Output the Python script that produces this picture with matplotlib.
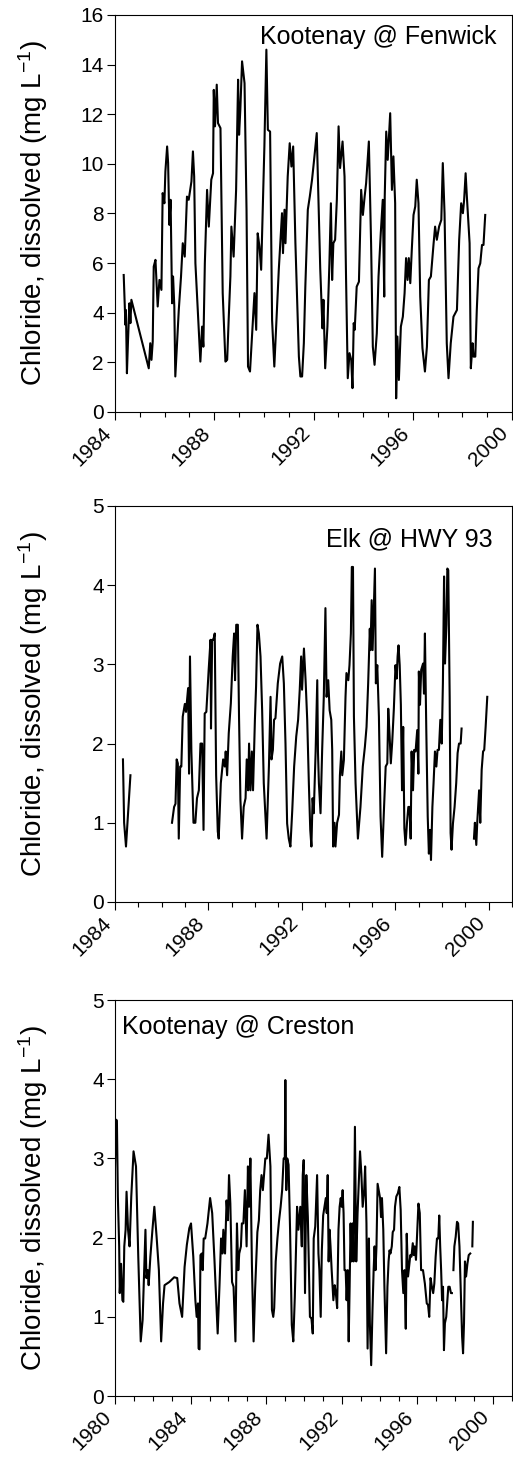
import numpy as np
import matplotlib.pyplot as plt
from matplotlib.ticker import MultipleLocator

plt.rcParams["font.family"] = ["Liberation Sans", "DejaVu Sans"]
plt.rcParams["mathtext.default"] = "regular"

nan = np.nan

# Kootenay @ Fenwick (decimal year, mg/L)
fenwick_year = [
    1984.35, 1984.42, 1984.44, 1984.48, 1984.52, 1984.58, 1984.62, 1984.66,
    1985.36, 1985.42, 1985.47, 1985.52, 1985.56, 1985.63, 1985.72, 1985.79, 1985.87, 1985.92, 1985.99,
    1986.03, 1986.10, 1986.14, 1986.19, 1986.24, 1986.30, 1986.34, 1986.39, 1986.43, 1986.57, 1986.66, 1986.73, 1986.81, 1986.90, 1986.97,
    1987.08, 1987.14, 1987.19, 1987.24, 1987.44, 1987.51, 1987.56, 1987.62, 1987.71, 1987.78, 1987.88, 1987.95, 1987.98,
    1988.03, 1988.10, 1988.15, 1988.25, 1988.34, 1988.45, 1988.52, 1988.58, 1988.65, 1988.69, 1988.78, 1988.88, 1988.96,
    1989.00, 1989.05, 1989.12, 1989.22, 1989.30, 1989.36, 1989.44, 1989.52, 1989.62, 1989.69, 1989.75, 1989.82, 1989.89,
    1990.02, 1990.10, 1990.16, 1990.25, 1990.33, 1990.42, 1990.49, 1990.60, 1990.73, 1990.77, 1990.83, 1990.87, 1990.96,
    1991.04, 1991.11, 1991.18, 1991.27, 1991.41, 1991.47, 1991.54, 1991.61, 1991.67, 1991.77, 1991.85, 1991.94,
    1992.01, 1992.13, 1992.27, 1992.36, 1992.40, 1992.47, 1992.56, 1992.64, 1992.70, 1992.75, 1992.80, 1992.87, 1992.94,
    1993.01, 1993.07, 1993.17, 1993.25, 1993.31, 1993.38, 1993.45, 1993.52, 1993.57, 1993.62, 1993.66, 1993.74, 1993.83, 1993.92, 1993.99,
    1994.06, 1994.12, 1994.23, 1994.32, 1994.39, 1994.46, 1994.55, 1994.62, 1994.71, 1994.79, 1994.85, 1994.87, 1994.93, 1994.99,
    1995.09, 1995.16, 1995.22, 1995.29, 1995.33, 1995.38, 1995.44, 1995.52, 1995.60, 1995.67, 1995.73, 1995.79, 1995.84, 1995.90, 1995.96,
    1996.03, 1996.10, 1996.16, 1996.23, 1996.30, 1996.39, 1996.49, 1996.57, 1996.65, 1996.73, 1996.84, 1996.90, 1996.97,
    1997.06, 1997.15, 1997.21, 1997.28, 1997.37, 1997.44, 1997.53, 1997.64, 1997.78, 1997.87, 1997.95,
    1998.02, 1998.07, 1998.13, 1998.18, 1998.29, 1998.34, 1998.41, 1998.45, 1998.52, 1998.58, 1998.65, 1998.72, 1998.79, 1998.85, 1998.92,
]
fenwick_cl = [
    5.52, 3.51, 4.11, 1.56, 2.77, 4.38, 3.58, 4.52,
    1.76, 2.77, 2.10, 2.84, 5.86, 6.13, 4.25, 5.32, 4.92, 8.82, 8.41,
    9.69, 10.70, 10.03, 7.54, 8.55, 4.38, 5.46, 4.25, 1.43, 4.11, 5.46, 6.80, 6.26, 8.68, 8.55,
    9.29, 10.50, 9.49, 5.99, 2.03, 3.44, 2.63, 5.99, 8.95, 7.47, 9.36, 9.62, 12.98,
    11.51, 13.19, 11.64, 11.44, 4.79, 2.03, 2.10, 3.71, 5.46, 7.47, 6.26, 8.95, 13.39,
    11.17, 12.18, 14.13, 13.25, 8.15, 1.83, 1.63, 3.04, 4.79, 3.31, 7.20, 6.67, 5.73,
    10.70, 14.60, 11.37, 11.30, 3.71, 1.83, 3.31, 5.73, 8.01, 6.40, 8.15, 6.80, 9.49,
    10.83, 9.89, 10.70, 6.80, 2.23, 1.43, 1.43, 2.77, 5.05, 8.15, 8.68, 9.36,
    10.03, 11.24, 5.79, 3.37, 4.52, 1.76, 3.44, 5.99, 8.41, 5.32, 6.80, 6.94, 8.55,
    11.51, 9.83, 10.90, 9.49, 5.46, 1.36, 2.37, 2.10, 0.96, 3.58, 3.31, 5.05, 5.25, 8.95, 7.94,
    8.68, 9.22, 10.90, 6.80, 2.63, 1.90, 3.17, 5.46, 7.20, 8.55, 4.65, 8.68, 11.30, 10.16,
    12.04, 8.95, 10.30, 8.41, 0.55, 3.04, 1.29, 3.44, 3.84, 4.79, 6.20, 5.32, 6.20, 5.19, 6.53,
    7.94, 8.28, 9.36, 8.41, 4.65, 2.57, 1.63, 2.63, 5.32, 5.46, 6.80, 7.47, 6.94,
    7.47, 7.74, 10.03, 8.01, 2.77, 1.36, 2.77, 3.84, 4.11, 6.94, 8.41,
    8.01, 8.55, 9.62, 8.68, 6.80, 1.76, 2.77, 2.23, 2.23, 4.11, 5.79, 5.99, 6.73, 6.73, 7.94,
]

# Elk @ HWY 93 (nan = gap in record)
elk_year = [
    1984.34, 1984.39, 1984.47, 1984.56, 1984.66, nan,
    1986.44, 1986.53, 1986.59, 1986.64, 1986.69, 1986.73, 1986.79, 1986.84, 1986.90, 1986.99,
    1987.04, 1987.13, 1987.17, 1987.21, 1987.27, 1987.36, 1987.44, 1987.51, 1987.59, 1987.66, 1987.73, 1987.79, 1987.84, 1987.91,
    1988.01, 1988.09, 1988.11, 1988.16, 1988.21, 1988.27, 1988.33, 1988.40, 1988.44, 1988.53, 1988.63, 1988.70, 1988.74, 1988.80, 1988.87, 1988.96,
    1989.04, 1989.10, 1989.14, 1989.19, 1989.26, 1989.31, 1989.37, 1989.44, 1989.51, 1989.59, 1989.64, 1989.70, 1989.74, 1989.80, 1989.86, 1989.91, 1989.99,
    1990.04, 1990.10, 1990.16, 1990.23, 1990.30, 1990.37, 1990.49, 1990.59, 1990.66, 1990.70, 1990.76, 1990.81, 1990.87, 1990.97,
    1991.07, 1991.16, 1991.23, 1991.30, 1991.37, 1991.44, 1991.51, 1991.59, 1991.67, 1991.76, 1991.84, 1991.91, 1991.97,
    1992.01, 1992.09, 1992.16, 1992.23, 1992.30, 1992.36, 1992.41, 1992.46, 1992.51, 1992.59, 1992.66, 1992.69, 1992.73, 1992.80, 1992.87, 1992.94,
    1993.01, 1993.06, 1993.13, 1993.19, 1993.26, 1993.30, 1993.34, 1993.40, 1993.44, 1993.51, 1993.59, 1993.63, 1993.69, 1993.73, 1993.80, 1993.87, 1993.91, 1993.99,
    1994.04, 1994.10, 1994.14, 1994.19, 1994.23, 1994.30, 1994.40, 1994.51, 1994.61, 1994.70, 1994.77, 1994.84, 1994.91, 1994.94, 1994.99,
    1995.03, 1995.09, 1995.13, 1995.17, 1995.23, 1995.30, 1995.37, 1995.44, 1995.51, 1995.59, 1995.66, 1995.70, 1995.76, 1995.81, 1995.87, 1995.94, 1995.99,
    1996.01, 1996.06, 1996.10, 1996.14, 1996.19, 1996.24, 1996.29, 1996.34, 1996.39, 1996.44, 1996.50, 1996.56, 1996.61, 1996.66, 1996.70, 1996.76, 1996.81, 1996.87, 1996.94, 1996.99,
    1997.01, 1997.06, 1997.11, 1997.19, 1997.23, 1997.27, 1997.33, 1997.39, 1997.44, 1997.49, 1997.53, 1997.59, 1997.64, 1997.70, 1997.76, 1997.81, 1997.87, 1997.93, 1997.99,
    1998.04, 1998.09, 1998.13, 1998.19, 1998.23, 1998.27, 1998.33, 1998.37, 1998.41, 1998.47, 1998.54, 1998.61, 1998.67, 1998.73, 1998.80, 1998.84, nan,
    1999.37, 1999.41, 1999.47, 1999.51, 1999.59, 1999.64, 1999.70, 1999.76, 1999.81, 1999.87, 1999.94,
]
elk_cl = [
    1.80, 1.00, 0.70, 1.12, 1.60, nan,
    1.00, 1.20, 1.24, 1.80, 1.75, 0.80, 1.71, 1.71, 2.34, 2.50,
    2.40, 2.70, 1.62, 3.10, 1.90, 1.00, 1.00, 1.31, 1.41, 2.00, 2.00, 0.91, 2.38, 2.40,
    2.93, 3.31, 2.19, 3.31, 3.31, 3.39, 1.60, 0.89, 0.80, 1.50, 1.80, 1.71, 1.90, 1.60, 2.13, 2.51,
    3.10, 3.39, 2.80, 3.50, 3.50, 2.34, 1.29, 0.80, 1.20, 1.31, 1.80, 1.41, 2.00, 1.41, 1.90, 1.41, 2.30,
    2.72, 3.50, 3.39, 3.10, 2.42, 1.50, 0.80, 1.71, 2.59, 1.80, 1.92, 2.30, 2.32, 2.76,
    3.01, 3.10, 2.76, 2.00, 0.99, 0.80, 0.70, 1.16, 1.71, 2.09, 2.30, 2.68, 3.10,
    2.68, 3.20, 2.80, 2.30, 1.50, 0.91, 0.70, 1.31, 1.12, 1.90, 2.80, 1.90, 1.50, 1.12, 1.92, 2.59,
    3.71, 2.59, 2.80, 2.42, 2.30, 1.92, 0.70, 1.00, 0.70, 1.00, 1.10, 1.60, 1.90, 1.60, 1.79, 2.59, 2.89, 2.80,
    2.99, 3.39, 4.23, 4.23, 2.34, 1.50, 0.80, 1.20, 1.71, 1.96, 2.21, 2.76, 3.45, 3.18, 3.81,
    3.18, 3.81, 4.21, 2.76, 2.99, 2.34, 1.08, 0.57, 1.12, 1.71, 1.75, 2.44, 2.09, 1.75, 2.02, 2.44, 2.82,
    2.99, 2.82, 3.10, 3.24, 2.99, 2.49, 1.41, 2.21, 0.93, 0.72, 0.99, 1.20, 1.20, 0.80, 1.90, 1.41, 1.92, 1.90, 2.17, 1.62,
    2.91, 2.49, 2.93, 3.01, 2.63, 3.39, 2.15, 1.08, 0.61, 0.91, 0.53, 1.20, 1.50, 1.90, 1.71, 1.92, 1.92, 2.30, 2.00,
    2.76, 4.11, 3.01, 3.50, 4.21, 4.19, 2.59, 0.87, 0.66, 0.99, 1.20, 1.50, 1.88, 2.00, 2.00, 2.19, nan,
    0.80, 1.00, 0.72, 1.00, 1.41, 1.00, 1.67, 1.90, 1.92, 2.21, 2.59,
]

# Kootenay @ Creston
creston_year = [
    1979.99, 1980.05, 1980.10, 1980.15, 1980.22, 1980.25, 1980.32, 1980.39, 1980.44, 1980.49, 1980.56, 1980.61, 1980.69, 1980.77, 1980.86, 1980.98,
    1981.11, 1981.23, 1981.36, 1981.46, 1981.53, 1981.61, 1981.66, 1981.73, 1981.78, 1981.87, 1981.98,
    1982.08, 1982.20, 1982.32, 1982.44, 1982.54, 1982.62, 1982.87,
    1983.13, 1983.29, 1983.41, 1983.55, 1983.68, 1983.80, 1983.93,
    1984.02, 1984.14, 1984.25, 1984.32, 1984.39, 1984.42, 1984.47, 1984.52, 1984.59, 1984.64, 1984.69, 1984.77, 1984.89,
    1985.03, 1985.14, 1985.26, 1985.43, 1985.53, 1985.61, 1985.68, 1985.73, 1985.82, 1985.90, 1985.97,
    1986.03, 1986.10, 1986.19, 1986.27, 1986.37, 1986.45, 1986.52, 1986.57, 1986.66, 1986.71, 1986.79, 1986.87, 1986.96,
    1987.03, 1987.09, 1987.16, 1987.24, 1987.33, 1987.41, 1987.53, 1987.61, 1987.68, 1987.75, 1987.82, 1987.88, 1987.95,
    1988.03, 1988.12, 1988.22, 1988.30, 1988.37, 1988.42, 1988.50, 1988.59, 1988.67, 1988.76, 1988.84, 1988.92, 1988.98,
    1989.01, 1989.06, 1989.11, 1989.18, 1989.26, 1989.35, 1989.43, 1989.51, 1989.63, 1989.70, 1989.80, 1989.88, 1989.93, 1989.98,
    1990.05, 1990.12, 1990.20, 1990.31, 1990.39, 1990.46, 1990.51, 1990.59, 1990.69, 1990.76, 1990.81, 1990.88, 1990.94,
    1991.01, 1991.08, 1991.15, 1991.20, 1991.25, 1991.30, 1991.35, 1991.40, 1991.46, 1991.55, 1991.62, 1991.68, 1991.75, 1991.82, 1991.88, 1991.94, 1991.99,
    1992.04, 1992.09, 1992.14, 1992.20, 1992.25, 1992.31, 1992.36, 1992.41, 1992.46, 1992.51, 1992.57, 1992.62, 1992.69, 1992.76, 1992.83, 1992.89, 1992.96,
    1993.03, 1993.10, 1993.18, 1993.23, 1993.30, 1993.36, 1993.43, 1993.48, 1993.55, 1993.62, 1993.68, 1993.73, 1993.78, 1993.83, 1993.89, 1993.95,
    1994.02, 1994.07, 1994.12, 1994.19, 1994.25, 1994.34, 1994.41, 1994.47, 1994.52, 1994.57, 1994.64, 1994.69, 1994.76, 1994.81, 1994.88, 1994.96,
    1995.04, 1995.11, 1995.18, 1995.25, 1995.31, 1995.38, 1995.43, 1995.50, 1995.57, 1995.62, 1995.68, 1995.75, 1995.80, 1995.85, 1995.92, 1995.99,
    1996.05, 1996.12, 1996.19, 1996.29, 1996.39, 1996.49, 1996.56, 1996.62, 1996.69, 1996.76, 1996.83, 1996.89, 1996.96,
    1997.03, 1997.10, 1997.15, 1997.20, 1997.25, 1997.30, 1997.35, 1997.40, 1997.45, 1997.52, 1997.58, 1997.63, 1997.70, 1997.77, 1997.82, nan,
    1997.90, 1997.95, 1998.02, 1998.09, 1998.15, 1998.22, 1998.29, 1998.36, 1998.41, 1998.46, 1998.51, 1998.57, 1998.64, 1998.71, 1998.79, nan,
    1998.90, 1998.93,
]
creston_cl = [
    2.79, 3.49, 3.48, 2.52, 1.89, 1.30, 1.67, 1.21, 1.19, 1.89, 2.10, 2.58, 2.10, 1.89, 2.52, 3.09,
    2.90, 1.76, 0.69, 0.96, 1.51, 2.10, 1.49, 1.59, 1.40, 1.76, 2.10,
    2.39, 2.01, 1.59, 0.69, 1.17, 1.40, 1.44,
    1.50, 1.49, 1.17, 1.00, 1.63, 1.91, 2.12,
    2.18, 1.76, 1.21, 1.00, 1.17, 0.60, 0.59, 1.78, 1.80, 1.59, 1.99, 1.99, 2.18,
    2.50, 2.31, 1.72, 0.79, 1.42, 1.99, 1.80, 2.10, 1.80, 2.47, 2.22,
    2.79, 2.43, 1.44, 1.38, 0.69, 2.18, 1.59, 1.80, 1.89, 2.18, 2.18, 2.60, 1.89,
    2.90, 2.39, 3.00, 1.67, 0.69, 1.34, 2.07, 2.22, 2.60, 2.79, 2.60, 2.79, 3.00,
    3.00, 3.30, 2.90, 1.09, 1.00, 1.11, 1.70, 1.99, 2.20, 2.39, 2.60, 3.00, 3.00,
    3.99, 2.60, 3.00, 2.92, 2.10, 0.90, 0.69, 1.25, 2.39, 2.10, 2.39, 1.89, 2.79, 2.98,
    1.30, 2.79, 2.26, 1.00, 0.98, 0.79, 1.99, 2.14, 2.79, 1.80, 1.59, 1.00, 1.84,
    2.28, 2.39, 2.50, 2.31, 2.79, 1.70, 2.10, 1.89, 1.59, 1.21, 1.40, 1.30, 1.11, 2.10, 2.39, 2.50, 2.39,
    2.60, 2.31, 1.59, 1.59, 1.21, 1.59, 0.69, 1.38, 2.18, 1.70, 2.18, 1.70, 3.40, 1.70, 2.31, 2.68, 3.09,
    2.81, 2.39, 2.60, 2.90, 2.18, 0.60, 1.99, 0.92, 0.39, 1.09, 1.59, 1.89, 1.59, 1.89, 2.68, 2.60,
    2.50, 2.26, 2.50, 2.10, 1.38, 0.54, 1.38, 1.70, 1.84, 1.80, 1.89, 2.07, 2.10, 2.39, 2.52, 2.56,
    2.64, 2.35, 1.59, 1.30, 1.59, 0.85, 2.05, 1.51, 1.67, 1.78, 1.76, 1.93, 1.78, 1.89, 1.72, 2.10,
    2.43, 2.31, 1.59, 1.59, 1.42, 1.17, 1.15, 1.00, 1.49, 1.38, 1.30, 1.42, 1.76,
    1.99, 1.99, 2.28, 1.89, 1.59, 1.21, 1.38, 0.58, 0.92, 1.00, 1.21, 1.38, 1.38, 1.30, 1.30, nan,
    1.59, 1.89, 2.01, 2.20, 2.18, 1.89, 1.30, 0.75, 0.54, 0.92, 1.70, 1.51, 1.67, 1.78, 1.80, nan,
    1.89, 2.20,
]

assert len(fenwick_year) == len(fenwick_cl)
assert len(elk_year) == len(elk_cl)
assert len(creston_year) == len(creston_cl)

fig = plt.figure(figsize=(5.13, 14.64), dpi=100)
ax1 = fig.add_axes([0.2242, 0.7186, 0.7739, 0.2712])
ax2 = fig.add_axes([0.2242, 0.3839, 0.7739, 0.2705])
ax3 = fig.add_axes([0.2242, 0.0464, 0.7739, 0.2705])

panels = [
    (ax1, fenwick_year, fenwick_cl, (1984, 2000), 16, 2, "Kootenay @ Fenwick", 0.962, 0.975, "right"),
    (ax2, elk_year, elk_cl, (1984, 2001), 5, 1, "Elk @ HWY 93", 0.952, 0.947, "right"),
    (ax3, creston_year, creston_cl, (1980, 2001), 5, 1, "Kootenay @ Creston", 0.018, 0.963, "left"),
]

for ax, yr, cl, xlim, ymax, ystep, name, tx, ty, tha in panels:
    ax.plot(yr, cl, color="black", lw=1.5)
    ax.set_xlim(*xlim)
    ax.set_ylim(0, ymax)
    ax.xaxis.set_major_locator(MultipleLocator(4))
    ax.xaxis.set_minor_locator(MultipleLocator(1))
    ax.yaxis.set_major_locator(MultipleLocator(ystep))
    ax.tick_params(axis="y", direction="out", length=6, width=0.8, labelsize=15, pad=2)
    ax.tick_params(axis="x", which="major", direction="out", length=6, width=0.8, labelsize=15, pad=2)
    ax.tick_params(axis="x", which="minor", direction="out", length=3.5, width=0.8)
    for lab in ax.get_xticklabels():
        lab.set_rotation(45)
        lab.set_ha("right")
        lab.set_va("top")
    for sp in ax.spines.values():
        sp.set_linewidth(0.8)
    ax.set_ylabel("Chloride, dissolved (mg L$^{-1}$)", fontsize=20)
    ax.yaxis.set_label_coords(-0.165, 0.5)
    ax.text(tx, ty, name, transform=ax.transAxes, ha=tha, va="top", fontsize=18)

fig.savefig("out.png", dpi=100)
